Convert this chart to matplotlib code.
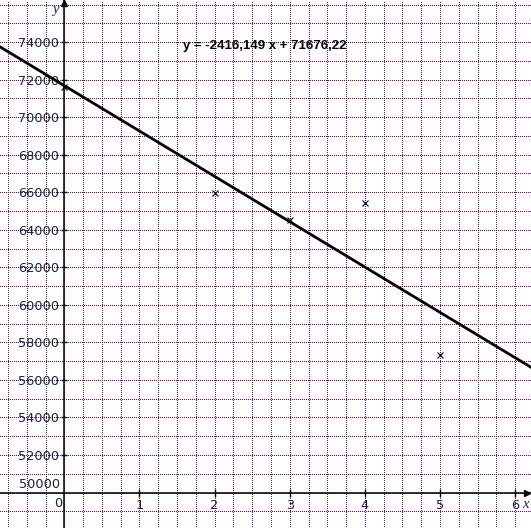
import matplotlib
matplotlib.use("Agg")
import matplotlib.pyplot as plt
import numpy as np
from matplotlib.ticker import MultipleLocator

# data points
pts_x = [0, 2, 3, 4, 5]
pts_y = [71620, 65940, 64520, 65440, 57310]

# regression line as printed on the chart
slope = -2416.149
intercept = 71676.22
eq_label = "y = -2416,149 x + 71676,22"

x_ticks = [1, 2, 3, 4, 5, 6]
x_tick_labels = ["1", "2", "3", "4", "5", "6"]
y_ticks = [52000, 54000, 56000, 58000, 60000, 62000, 64000, 66000, 68000, 70000, 72000, 74000]
y_tick_labels = [str(v) for v in y_ticks]

label_color = "#1a2430"
grid_color = "#8a008a"
tick_size = 9.3

fig = plt.figure(figsize=(5.31, 5.28), dpi=100)
ax = fig.add_axes([0, 0, 1, 1])
ax.set_xlim(-0.856, 6.21)
ax.set_ylim(48110, 76240)

# axes crossing at (0, 50000)
for side in ("top", "right"):
    ax.spines[side].set_visible(False)
ax.spines["left"].set_position(("data", 0))
ax.spines["bottom"].set_position(("data", 50000))
for side in ("left", "bottom"):
    ax.spines[side].set_linewidth(1.1)
    ax.spines[side].set_color("black")
    ax.spines[side].set_zorder(3)

ax.set_xticks(x_ticks)
ax.set_xticklabels(x_tick_labels)
ax.set_yticks(y_ticks)
ax.set_yticklabels(y_tick_labels)
ax.tick_params(axis="y", direction="inout", length=5, width=1, pad=1,
               labelsize=tick_size, labelcolor=label_color)
ax.tick_params(axis="x", direction="inout", length=6, width=1, pad=2,
               labelsize=tick_size, labelcolor=label_color)

# dotted grid, 1px dots every 3px
ax.xaxis.set_minor_locator(MultipleLocator(0.25))
ax.yaxis.set_minor_locator(MultipleLocator(1000))
ax.tick_params(which="minor", length=0)
ax.set_axisbelow(True)
ax.grid(which="both", color=grid_color, linewidth=0.5, linestyle=(0, (1.44, 2.88)),
        antialiased=False)

# axis arrow heads
ax.plot([0.993], [50000], marker=">", color="black", markersize=4,
        transform=ax.get_yaxis_transform(), clip_on=False, zorder=4)
ax.plot([0], [0.995], marker="^", color="black", markersize=4,
        transform=ax.get_xaxis_transform(), clip_on=False, zorder=4)

# regression line
xs = np.array(ax.get_xlim())
ax.plot(xs, slope * xs + intercept, color="black", linewidth=2.0, zorder=5)

# data points
ax.plot(pts_x, pts_y, linestyle="none", marker="x", color="black",
        markersize=5, markeredgewidth=0.8, zorder=6)

# extra labels
ax.annotate("50000", xy=(0, 50000), xytext=(-4.5, 8), textcoords="offset pixels",
            ha="right", va="center", fontsize=tick_size, color=label_color)
ax.annotate("0", xy=(0, 50000), xytext=(-2, -11), textcoords="offset pixels",
            ha="right", va="center", fontsize=tick_size, color=label_color)
ax.annotate("x", xy=(6, 50000), xytext=(10, -12), textcoords="offset pixels",
            ha="center", va="center", fontsize=10.5, style="italic",
            family="Liberation Serif", color=label_color)
fig.text(55.7 / 531, 1 - 10 / 528, "y", ha="center", va="center", fontsize=10.5,
         style="italic", family="Liberation Serif", color=label_color)

fig.text(183 / 531, 1 - 45.5 / 528, eq_label, ha="left", va="center",
         fontsize=9.5, fontweight="bold", family="Liberation Sans", color="black")

fig.savefig("out.png", dpi=100, facecolor="white")
